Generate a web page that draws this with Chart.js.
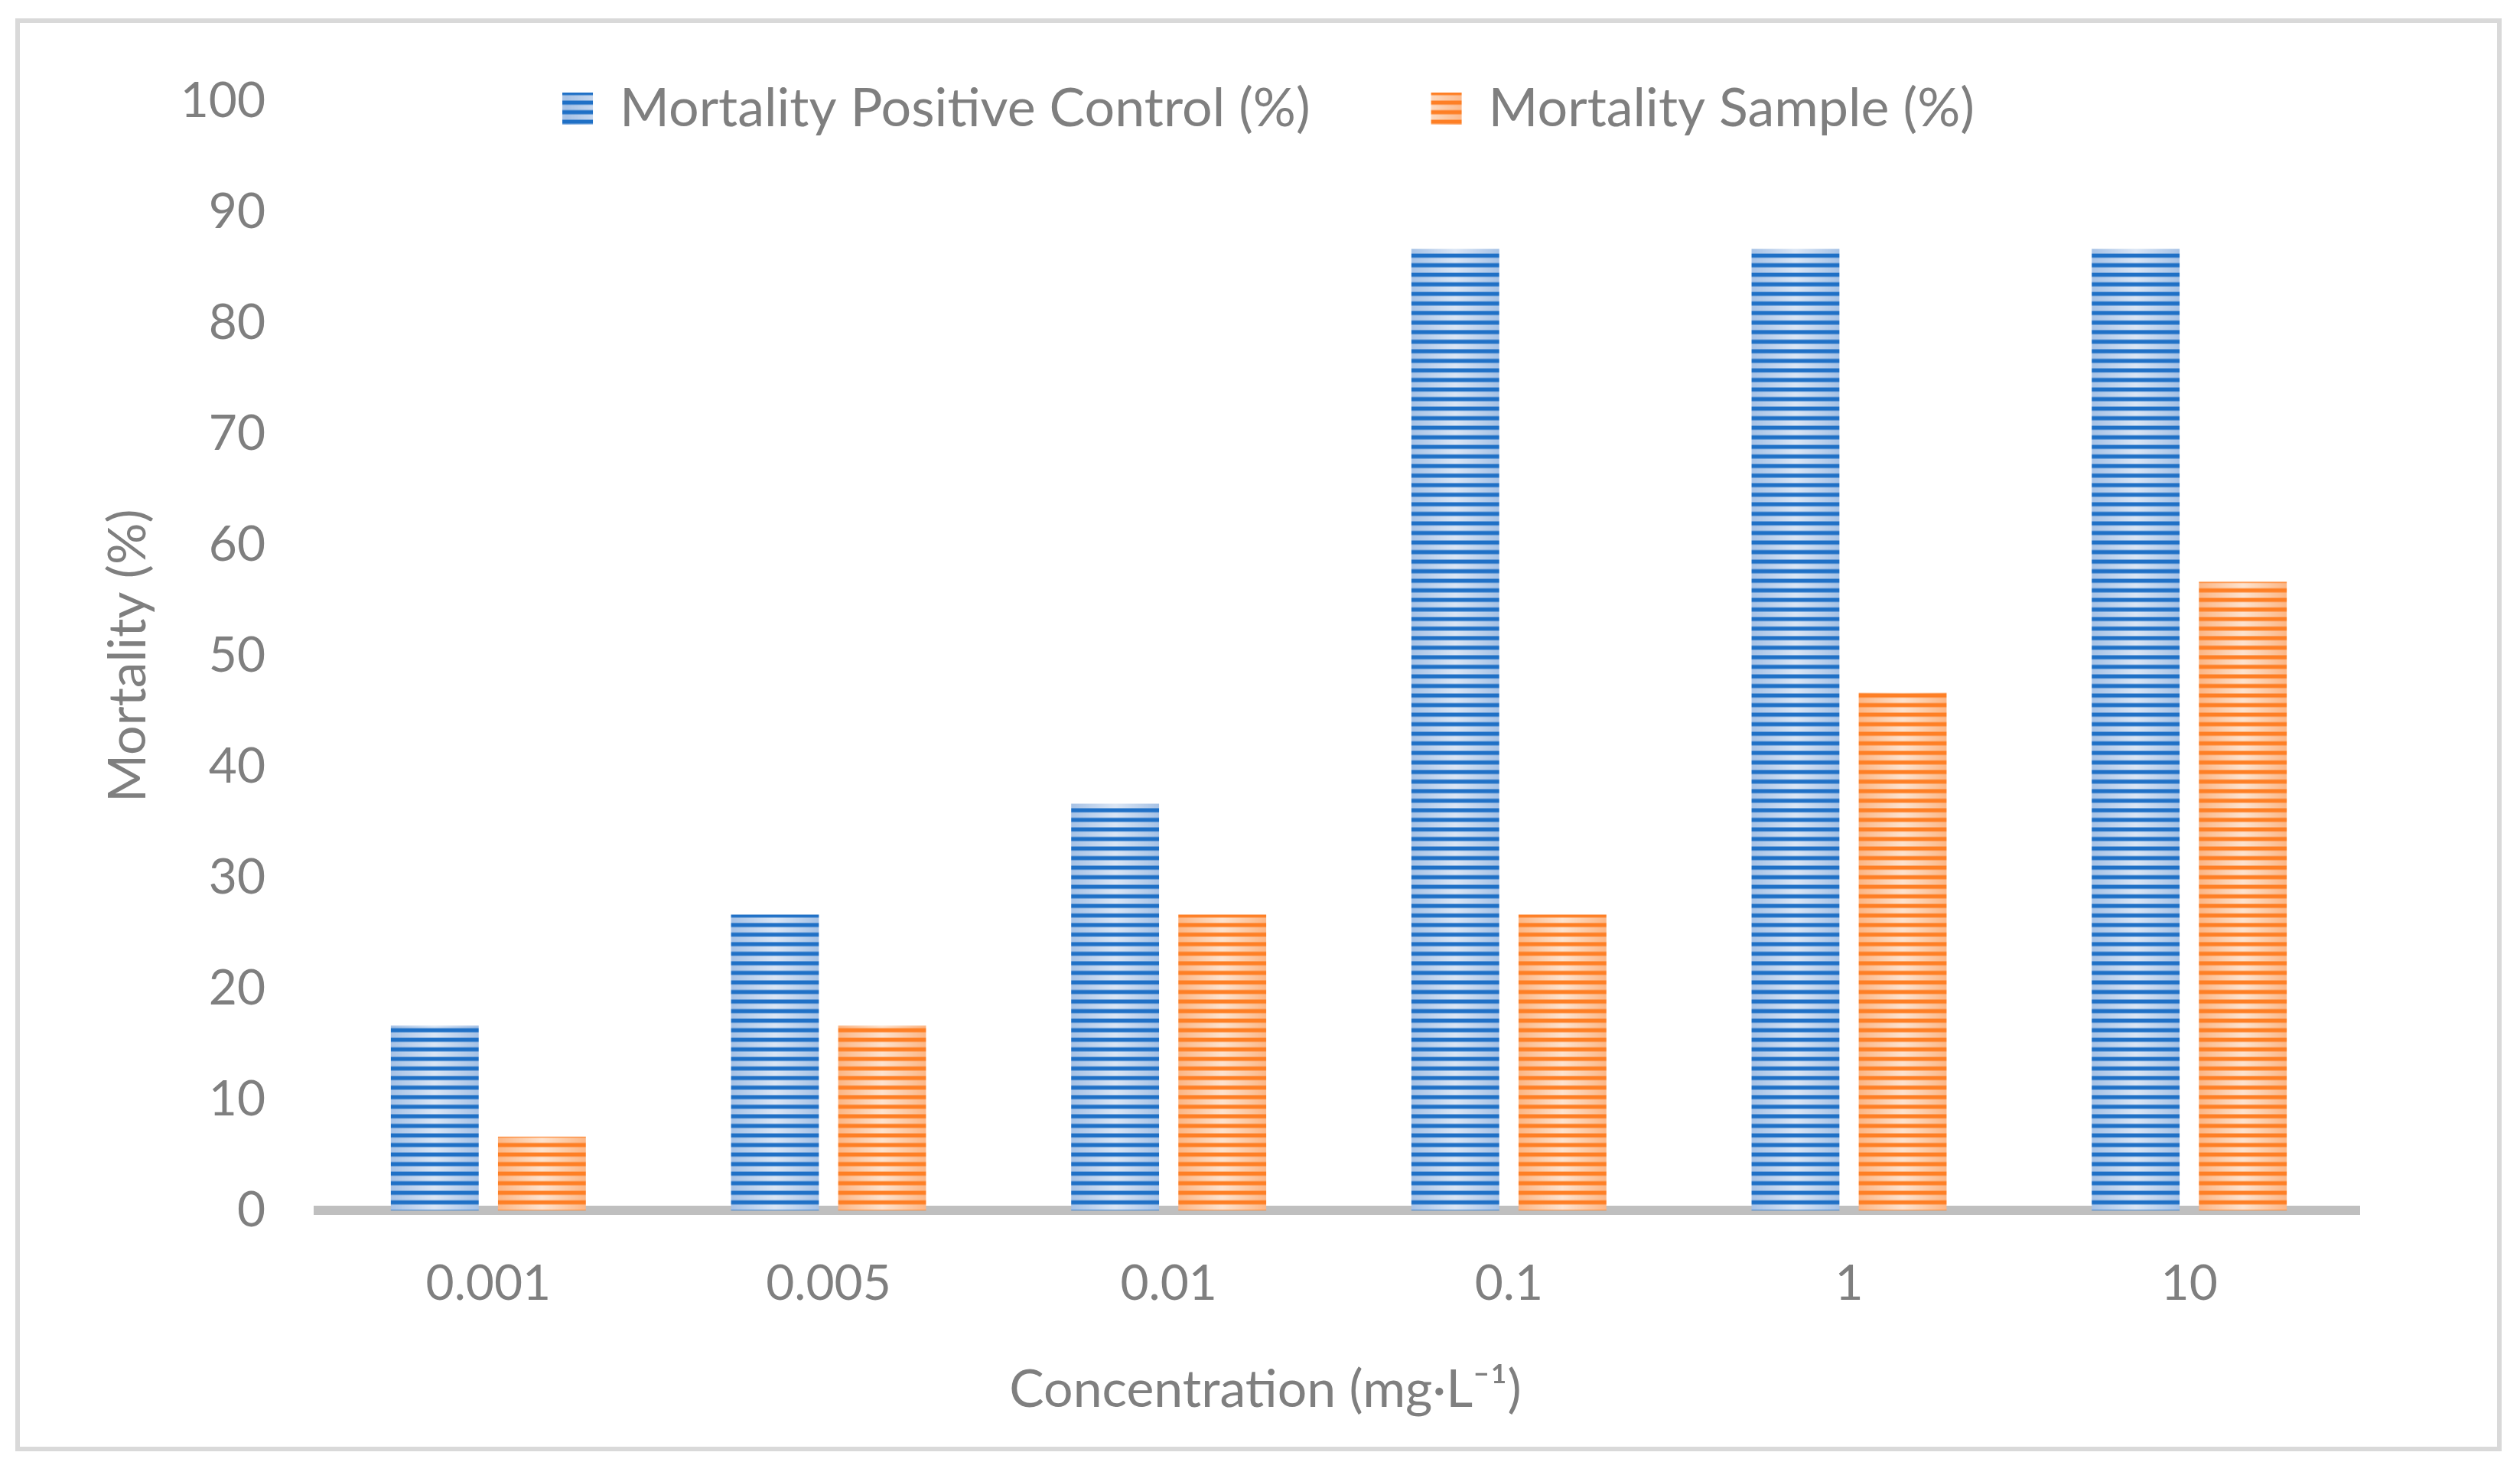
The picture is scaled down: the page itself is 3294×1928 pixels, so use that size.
<!DOCTYPE html>
<html>
<head>
<meta charset="utf-8">
<title>Mortality</title>
<script src="https://cdn.jsdelivr.net/npm/chart.js@4.4.1/dist/chart.umd.min.js"></script>
<style>
  html, body { margin: 0; padding: 0; background: #fff; }
  #wrap { position: relative; width: 3294px; height: 1928px; }
  #chart { display: block; }
  #frame {
    position: absolute; left: 20px; top: 24px; width: 3250px; height: 1873px;
    box-sizing: border-box; border: 6px solid #d9d9d9; pointer-events: none;
  }
</style>
</head>
<body>
<div id="wrap">
  <canvas id="chart" width="3294" height="1928"></canvas>
  <div id="frame"></div>
</div>
<script>
// data
const concentrations = ["0.001", "0.005", "0.01", "0.1", "1", "10"];
const positiveControl = [16.67, 26.67, 36.67, 86.67, 86.67, 86.67];
const sample = [6.67, 16.67, 26.67, 26.67, 46.67, 56.67];
const yTickValues = [0, 10, 20, 30, 40, 50, 60, 70, 80, 90, 100];

const GREY = "#7f7f7f";
const FONT = "Lato, 'Open Sans', sans-serif";
const CAT_PCT = 0.63;
const BAR_PCT = 0.82;
const PERIOD = 12.5;

// striped fill like the Excel pattern: dark line + light band with a soft horizontal gradient
function stripeTile(width, dark, edge, centre) {
  const c = document.createElement("canvas");
  c.width = Math.max(1, Math.round(width));
  c.height = PERIOD * 2;
  const g = c.getContext("2d");
  const grad = g.createLinearGradient(0, 0, c.width, 0);
  grad.addColorStop(0, edge);
  grad.addColorStop(0.5, centre);
  grad.addColorStop(1, edge);
  g.fillStyle = grad;
  g.fillRect(0, 0, c.width, c.height);
  g.fillStyle = dark;
  g.fillRect(0, 0, c.width, 5.3);
  g.fillRect(0, PERIOD, c.width, 5.3);
  return c;
}

function barFill(dark, edge, centre) {
  const cache = {};
  return (c) => {
    const chart = c.chart;
    const x = chart.scales.x;
    let left = 0, width = 42, e = edge;
    if (c.type === "data" && chart.chartArea && x) {
      const catW = (x.right - x.left) / concentrations.length;
      const slot = catW * CAT_PCT / 2;
      width = slot * BAR_PCT;
      const mid = x.getPixelForValue(c.dataIndex) + (c.datasetIndex === 0 ? -slot / 2 : slot / 2);
      left = mid - width / 2;
    } else {
      e = centre;
    }
    const key = Math.round(width) + "_" + e;
    if (!cache[key]) cache[key] = stripeTile(width, dark, e, centre);
    const p = chart.ctx.createPattern(cache[key], "repeat");
    p.setTransform(new DOMMatrix([1, 0, 0, 1, left, 6.5]));
    return p;
  };
}

// legend sits inside the plot, title under the axis centred on the page
const placeBlocks = {
  id: "placeBlocks",
  afterLayout(chart) {
    const lg = chart.legend;
    if (lg) {
      lg.left = 11; lg.right = 3305; lg.width = 3294;
      lg.top = -51; lg.bottom = 300; lg.height = 351;
    }
    const t = chart.titleBlock;
    if (t) {
      const w = t.right - t.left;
      t.left = 1654 - w / 2; t.right = 1654 + w / 2;
    }
  }
};

new Chart(document.getElementById("chart"), {
  type: "bar",
  data: {
    labels: concentrations,
    datasets: [
      {
        label: "Mortality Positive Control (%)",
        data: positiveControl,
        backgroundColor: barFill("#1f70c6", "#a6c2e6", "#dbe6f5"),
        borderWidth: 0,
        categoryPercentage: CAT_PCT,
        barPercentage: BAR_PCT
      },
      {
        label: "Mortality Sample (%)",
        data: sample,
        backgroundColor: barFill("#fe7f25", "#fcb685", "#fde3cf"),
        borderWidth: 0,
        categoryPercentage: CAT_PCT,
        barPercentage: BAR_PCT
      }
    ]
  },
  options: {
    responsive: false,
    animation: false,
    devicePixelRatio: 1,
    layout: { padding: { left: 60, right: 210, top: 131, bottom: 40 } },
    scales: {
      x: {
        z: 1,
        grid: { display: false, drawTicks: false },
        border: { display: true, color: "#bfbfbf", width: 12 },
        ticks: { color: GREY, font: { family: FONT, size: 64 }, padding: 58 },
        afterFit: (s) => { s.height = 194; }
      },
      y: {
        min: yTickValues[0],
        max: yTickValues[yTickValues.length - 1],
        grid: { display: false, drawTicks: false },
        border: { display: false },
        ticks: {
          stepSize: yTickValues[1] - yTickValues[0],
          color: GREY,
          font: { family: FONT, size: 64 },
          padding: 69
        },
        title: {
          display: true,
          text: "Mortality (%)",
          color: GREY,
          font: { family: FONT, size: 68 },
          padding: { top: 67, bottom: 0 }
        },
        afterFit: (s) => { s.width = 356; }
      }
    },
    plugins: {
      legend: {
        position: "top",
        maxHeight: 1,
        labels: {
          color: GREY,
          font: { family: FONT, size: 70 },
          boxWidth: 40,
          boxHeight: 42,
          padding: 158
        }
      },
      title: {
        display: true,
        position: "bottom",
        text: "Concentration (mg·L⁻¹)",
        color: GREY,
        font: { family: FONT, size: 68, weight: "normal" },
        padding: { top: 0, bottom: 30 }
      },
      tooltip: { enabled: false }
    }
  },
  plugins: [placeBlocks]
});
</script>
</body>
</html>
